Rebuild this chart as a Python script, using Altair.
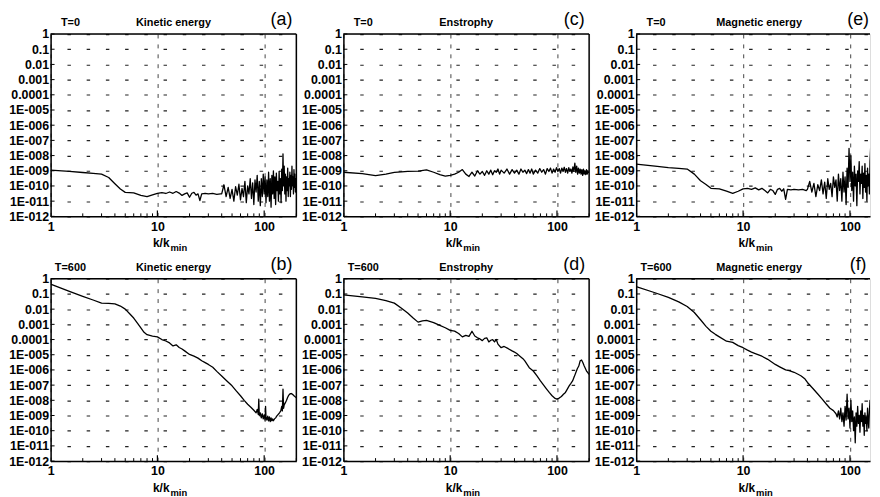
import altair as alt
import pandas as pd

FONT = "Liberation Sans"
W = 248          # full panel plot width (k from 1 to 200)
W_CUT = 236      # right-hand column, cut by the picture edge
XMAX_CUT = 154
H = 184

# ---------------- axis ticks ----------------
y_tick_values = [1, 0.1, 0.01, 0.001, 0.0001, 1e-5, 1e-6, 1e-7, 1e-8, 1e-9, 1e-10, 1e-11, 1e-12]
y_tick_labels = ["1", "0.1", "0.01", "0.001", "0.0001", "1E-005", "1E-006", "1E-007",
                 "1E-008", "1E-009", "1E-010", "1E-011", "1E-012"]
x_tick_values = [1, 10, 100]
x_tick_labels = ["1", "10", "100"]
x_minor_ticks = [2, 3, 4, 5, 6, 7, 8, 9, 20, 30, 40, 50, 60, 70, 80, 90, 200]
x_title_main = "k/k"
x_title_sub = "min"

# ---------------- panel texts (a, c, e, b, d, f) ----------------
panel_time = ["T=0", "T=0", "T=0", "T=600", "T=600", "T=600"]
panel_qty = ["Kinetic energy", "Enstrophy", "Magnetic energy",
             "Kinetic energy", "Enstrophy", "Magnetic energy"]
panel_letter = ["(a)", "(c)", "(e)", "(b)", "(d)", "(f)"]

# ---------------- data ----------------
k_t0_smooth = [1, 1.5, 2, 2.5, 3, 3.5, 4, 4.5, 5, 6, 7, 8, 9, 10, 11, 12, 13, 14, 15, 16,
               17, 18, 19, 20, 21, 22, 23, 24, 25, 26, 28, 30, 33, 36, 39]
k_t0_tail = list(range(40, 201, 2))

# (a) kinetic energy, T=0
v_a = [1.1e-9, 9e-10, 7.7e-10, 6.8e-10, 6e-10, 3.6e-10, 1.4e-10, 6.3e-11, 3.8e-11,
       3.5e-11, 2.4e-11, 2e-11, 2.6e-11, 3.3e-11, 3.6e-11, 3.2e-11, 4e-11, 3.3e-11, 4.3e-11,
       3.4e-11, 2.4e-11, 3e-11, 3.5e-11, 1.8e-11, 3.3e-11, 3.8e-11, 2.5e-11, 3e-11, 1.1e-11,
       3e-11, 3.3e-11, 3e-11, 3.2e-11, 2.8e-11, 3e-11,
       3e-11, 1.2e-10, 2e-11, 8e-11, 1.5e-11, 6e-11, 1e-11, 9e-11, 2.5e-11, 1.3e-10,
       1.2e-11, 7e-11, 2e-11, 2e-10, 8e-12, 1e-10, 3e-11, 3e-10, 1.5e-11, 1.6e-10,
       6e-12, 2.5e-10, 4e-11, 5e-10, 1e-11, 2e-10, 5e-12, 3e-10, 2e-11, 6e-10,
       3e-11, 4e-10, 8e-12, 2.5e-10, 2e-11, 8e-10, 1e-11, 3e-10, 4e-12, 5e-10,
       3e-11, 1e-9, 1.5e-11, 4e-10, 6e-12, 7e-10, 5e-11, 2e-10, 1e-11, 9e-10,
       3e-11, 3e-10, 8e-12, 1.3e-9, 5e-11, 1.3e-8, 1e-10, 2e-9, 3e-11, 6e-10,
       1e-11, 4e-10, 5e-11, 1.5e-9, 2e-11, 3e-10, 1e-10, 8e-10, 2e-11, 5e-10,
       6e-11, 2e-9, 1e-10, 4e-10, 3e-11, 1.2e-9, 8e-11, 6e-10, 4e-11, 3e-10,
       1e-10]
k_a = k_t0_smooth + k_t0_tail

# (c) enstrophy, T=0
k_c = ([1, 1.5, 2, 2.5, 3, 3.5, 4] + list(range(5, 31)) + list(range(32, 61, 2))
       + list(range(63, 199, 3)))
v_c = [8e-10, 6.5e-10, 4.8e-10, 6e-10, 7.8e-10, 8.5e-10, 9e-10,
       9.5e-10, 1.15e-9, 8e-10, 5.5e-10, 4.5e-10, 5e-10, 6e-10, 8e-10, 1.2e-9, 6e-10,
       4.2e-10, 8e-10, 4.5e-10, 1e-9, 6e-10, 9e-10, 5e-10, 1e-9, 6e-10, 1.1e-9,
       5.5e-10, 1e-9, 8e-10, 1.3e-9, 6e-10, 1.1e-9,
       7e-10, 1.3e-9, 6e-10, 1.2e-9, 7e-10, 1.1e-9, 6e-10, 1.3e-9, 8e-10, 1.1e-9,
       6.5e-10, 1.2e-9, 7e-10, 1.3e-9, 6e-10,
       1.1e-9, 7e-10, 1.4e-9, 8e-10, 1.2e-9, 6e-10, 1.4e-9, 9e-10, 1.5e-9, 7e-10,
       1.3e-9, 8e-10, 1.6e-9, 9e-10, 1.4e-9, 7e-10, 1.5e-9, 9e-10, 1.7e-9, 8e-10,
       1.4e-9, 7e-10, 1.6e-9, 9e-10, 1.3e-9, 7e-10, 1.8e-9, 9e-10, 3.2e-9, 8e-10,
       2e-9, 6e-10, 1.5e-9, 7e-10, 1.3e-9, 6e-10, 1.2e-9, 5e-10, 1.3e-9, 6e-10,
       1e-9, 5.5e-10, 1.2e-9, 6e-10, 1e-9, 7e-10]

# (e) magnetic energy, T=0
v_e = [2.7e-9, 2e-9, 1.6e-9, 1.45e-9, 1.3e-9, 6e-10, 2.2e-10, 1.25e-10, 7e-11,
       6.5e-11, 4.5e-11, 3.3e-11, 4.5e-11, 6.5e-11, 7e-11, 6e-11, 7.5e-11, 5.5e-11, 7e-11,
       5e-11, 3.5e-11, 6e-11, 5e-11, 2.8e-11, 6e-11, 7e-11, 4.5e-11, 6.5e-11, 1.3e-11,
       6e-11, 5.5e-11, 6e-11, 5.5e-11, 6e-11, 5e-11,
       6e-11, 2e-10, 4e-11, 1.5e-10, 2e-11, 1.2e-10, 5e-11, 2.5e-10, 3e-11, 1.8e-10,
       1.5e-11, 3e-10, 6e-11, 1.5e-10, 2e-11, 4e-10, 8e-11, 2.5e-10, 1e-11, 6e-10,
       5e-11, 3e-10, 1e-11, 8e-10, 4e-11, 4e-10, 6e-12, 1.5e-9, 8e-11, 3e-8,
       2e-10, 1e-8, 5e-11, 8e-10, 1e-11, 2e-9, 1e-10, 6e-10, 5e-12, 1e-9,
       2e-10, 4e-9, 3e-11, 6e-10, 1.5e-10, 2e-9, 1.5e-11, 7e-10, 8e-11, 3e-9,
       4e-11, 5e-10, 1e-11, 1.5e-9, 1e-10, 6e-10, 3e-11, 4e-9, 3e-8, 1e-9,
       1e-10, 2e-9, 3e-11, 8e-10, 2e-10, 5e-9, 6e-11, 1e-9, 3e-10, 1e-9,
       4e-8, 2e-10, 3e-9, 5e-11, 8e-10, 2e-9, 1e-10, 6e-10, 3e-9, 2e-10,
       1e-9]
k_e = k_t0_smooth + k_t0_tail

# (b) kinetic energy, T=600
k_b = [1, 1.5, 2, 2.5, 3, 3.5, 4, 4.5, 5, 5.5, 6, 6.5, 7, 7.5, 8, 9, 10, 11, 12, 13, 14, 15,
       16, 17, 18, 20, 22, 24, 26, 28, 30, 33, 36, 40, 45, 50, 55, 60, 65, 70, 75, 80, 84,
       86, 88, 89, 90, 92, 94, 96, 98, 100, 102, 103, 104, 106, 108, 110, 112, 114, 116,
       118, 120, 122, 125, 128, 131, 134, 137, 140, 143, 146, 148, 150, 152, 154, 158, 162,
       166, 170, 175, 180, 185, 190, 195, 200]
v_b = [0.45, 0.15, 0.07, 0.04, 0.025, 0.024, 0.022, 0.016, 0.01, 5e-3, 2.6e-3, 1.2e-3,
       5.8e-4, 3e-4, 2.1e-4, 1.7e-4, 1.5e-4, 1e-4, 8e-5, 6e-5, 3.8e-5, 4.5e-5,
       3e-5, 2.4e-5, 1.8e-5, 1.05e-5, 8e-6, 6e-6, 4e-6, 3e-6, 2.3e-6, 1.5e-6, 8e-7, 4e-7,
       1.8e-7, 9e-8, 4e-8, 2e-8, 1e-8, 5.5e-9, 3.5e-9, 2.2e-9, 1.5e-9,
       2.5e-9, 1.2e-9, 1.2e-8, 1e-9, 1.5e-9, 7e-10, 1.3e-9, 6e-10, 1.1e-9, 5e-10, 4e-9,
       8e-10, 5e-10, 9e-10, 4.5e-10, 8e-10, 4e-10, 7e-10,
       4.5e-10, 6e-10, 4.5e-10, 6e-10, 7e-10, 9e-10, 1.1e-9, 1.3e-9, 1.6e-9, 2e-9, 4e-9,
       2e-9, 5.5e-8, 3e-9, 5e-9, 7e-9, 1e-8,
       1.6e-8, 2.2e-8, 2.7e-8, 2.8e-8, 2.4e-8, 2e-8, 1.7e-8, 1.5e-8]

# (d) enstrophy, T=600
k_d = [1, 1.5, 2, 2.5, 3, 3.5, 4, 4.5, 5, 5.5, 6, 7, 8, 9, 10, 11, 12, 13, 14, 15, 16, 17,
       18, 19, 20, 21, 22, 23, 24, 25, 26, 27, 28, 30, 32, 35, 38, 40, 42, 45, 48, 50, 55,
       60, 65, 70, 75, 80, 85, 90, 95, 100, 105, 110, 115, 120, 125, 130, 135, 140, 145,
       150, 155, 160, 165, 170, 175, 180, 185, 190, 195, 200]
v_d = [0.087, 0.065, 0.052, 0.037, 0.025, 0.0115, 5.5e-3, 2.6e-3, 1.4e-3, 1.7e-3, 1.8e-3,
       1.3e-3, 8.5e-4, 6e-4, 4e-4, 3.6e-4, 2.5e-4, 1.5e-4, 1.9e-4, 1.6e-4, 3.5e-4, 1.7e-4,
       1.3e-4, 1.1e-4, 8.5e-5, 1.2e-4, 1.3e-4, 7e-5, 9e-5, 1e-4, 7e-5, 1e-4, 5e-5, 2.9e-5,
       3.5e-5, 2.5e-5, 1.8e-5, 1.5e-5, 1.2e-5, 8e-6, 5.5e-6, 3.9e-6, 1.4e-6,
       8.5e-7, 4e-7, 1.9e-7, 1e-7, 5.5e-8, 3.2e-8, 2e-8, 1.4e-8, 1.2e-8, 1.4e-8, 1.8e-8,
       2.5e-8, 3.3e-8, 5.5e-8, 9e-8, 1.3e-7, 1.9e-7, 3.5e-7,
       6.6e-7, 1.2e-6, 1.8e-6, 4e-6, 4.5e-6, 3e-6, 1.8e-6, 1.2e-6, 8e-7, 6.5e-7, 5e-7]

# (f) magnetic energy, T=600
k_f = [1, 1.5, 2, 2.5, 3, 3.5, 4, 4.5, 5, 5.5, 6, 7, 8, 9, 10, 11, 12, 13, 15, 17, 20, 22,
       25, 27, 30, 33, 35, 38, 40, 45, 50, 55, 60, 65, 70, 74] + list(range(76, 181, 2))
v_f = [0.3, 0.12, 0.06, 0.03, 0.015, 6e-3, 2e-3, 7.4e-4, 3.5e-4, 2.2e-4, 1.5e-4, 7.8e-5,
       6.5e-5, 4e-5, 2.9e-5, 2e-5, 1.5e-5, 1.2e-5, 8e-6, 5e-6, 2.3e-6, 1.6e-6,
       1e-6, 9e-7, 7e-7, 5e-7, 4e-7, 2.5e-7, 1.5e-7, 6e-8, 2.6e-8, 1.2e-8, 5.7e-9, 3e-9,
       2.1e-9, 1.3e-9,
       8e-10, 2e-9, 6e-10, 3e-9, 4e-10, 1.5e-9, 2e-10, 4e-9, 5e-10, 2.5e-8,
       6e-10, 3e-9, 1.5e-10, 1e-8, 4e-10, 2e-9, 1e-10, 8e-10, 1.6e-11, 1.5e-9,
       2e-10, 4e-9, 3e-10, 1e-9, 8e-11, 2e-9, 4e-10, 6e-9, 2e-10, 1e-9,
       5e-11, 1.5e-9, 3e-10, 8e-10, 1e-10, 3e-9, 5e-10, 1.5e-10, 2e-9, 1e-8,
       3e-9, 5e-9, 1.5e-8, 9e-8, 1e-8, 4e-8, 1.5e-8, 3e-8, 2e-8, 5e-8,
       3e-8, 4e-8, 8e-8]


def chain_expr(values, labels):
    parts = []
    for val, lab in zip(values, labels):
        parts.append(f"datum.value > {val / 3!r} ? '{lab}' : ")
    return "".join(parts) + "''"


y_expr = chain_expr(y_tick_values, y_tick_labels)
x_expr = chain_expr(sorted(x_tick_values, reverse=True), list(reversed(x_tick_labels)))

X_AXIS = alt.Axis(
    values=x_tick_values, labelExpr=x_expr, title=None, ticks=False,
    grid=True, gridDash=[4, 6], gridColor="#444", gridWidth=1,
    domainColor="black", domainWidth=1.5,
    labelFont=FONT, labelFontSize=12.5, labelFontWeight="bold",
    labelColor="black", labelPadding=4, labelFlush=False, labelOverlap=False)
Y_AXIS = alt.Axis(
    values=y_tick_values, labelExpr=y_expr, title=None, ticks=False,
    grid=True, gridDash=[3.5, 15.9], gridDashOffset=2.9, gridColor="#222",
    gridWidth=1.2, domainColor="black", domainWidth=1.5,
    labelFont=FONT, labelFontSize=12.5, labelFontWeight="bold",
    labelColor="black", labelPadding=2, labelOverlap=False, labelFlush=False)

one_row = pd.DataFrame({"n": [0]})


def panel(k, v, idx, width=W, xmax=200, right_frame=True, letter_x=233):
    df = pd.DataFrame({"k": k, "v": v})
    xs = alt.Scale(type="log", domain=[1, xmax], nice=False)
    ys = alt.Scale(type="log", domain=[1e-12, 1], nice=False)
    line = alt.Chart(df).mark_line(color="black", strokeWidth=1.3, clip=True,
                                   strokeJoin="round").encode(
        x=alt.X("k:Q", scale=xs, axis=X_AXIS),
        y=alt.Y("v:Q", scale=ys, axis=Y_AXIS),
    )
    yt = alt.Chart(pd.DataFrame({"v": y_tick_values})).mark_rule(
        color="black", strokeWidth=1).encode(
        y=alt.Y("v:Q", scale=ys, axis=Y_AXIS), x=alt.value(0), x2=alt.value(4))
    minor = [t for t in x_minor_ticks if t <= xmax]
    xt = alt.Chart(pd.DataFrame({"k": minor})).mark_rule(
        color="black", strokeWidth=1).encode(
        x=alt.X("k:Q", scale=xs, axis=X_AXIS), y=alt.value(H - 3), y2=alt.value(H))
    xt_major = alt.Chart(pd.DataFrame({"k": x_tick_values[1:]})).mark_rule(
        color="black", strokeWidth=1.2).encode(
        x=alt.X("k:Q", scale=xs, axis=X_AXIS), y=alt.value(H - 6), y2=alt.value(H))
    top = alt.Chart(one_row).mark_rule(color="black", strokeWidth=1.5).encode(
        x=alt.value(0), x2=alt.value(width), y=alt.value(0))
    layers = [line, yt, xt, xt_major, top]
    if right_frame:
        right = alt.Chart(one_row).mark_rule(color="black", strokeWidth=1.5).encode(
            x=alt.value(width), y=alt.value(0), y2=alt.value(H))
        layers.append(right)

    tdf = pd.DataFrame({"time": [panel_time[idx]], "qty": [panel_qty[idx]],
                        "letter": [panel_letter[idx]], "main": [x_title_main],
                        "sub": [x_title_sub]})
    base = alt.Chart(tdf)
    t_time = base.mark_text(font=FONT, fontSize=11, fontWeight="bold", color="black",
                            align="center", baseline="alphabetic").encode(
        text="time:N", x=alt.value(20), y=alt.value(-8))
    t_qty = base.mark_text(font=FONT, fontSize=11, fontWeight="bold", color="black",
                           align="center", baseline="alphabetic").encode(
        text="qty:N", x=alt.value(W / 2), y=alt.value(-8))
    t_letter = base.mark_text(font=FONT, fontSize=18, fontWeight="normal", color="black",
                              align="center", baseline="alphabetic").encode(
        text="letter:N", x=alt.value(letter_x), y=alt.value(-9))
    t_main = base.mark_text(font=FONT, fontSize=12, fontWeight="bold", color="black",
                            align="right", baseline="alphabetic").encode(
        text="main:N", x=alt.value(120), y=alt.value(H + 31))
    t_sub = base.mark_text(font=FONT, fontSize=9.5, fontWeight="bold", color="black",
                           align="left", baseline="alphabetic").encode(
        text="sub:N", x=alt.value(121), y=alt.value(H + 35))
    layers += [t_time, t_qty, t_letter, t_main, t_sub]
    return alt.layer(*layers).properties(width=width, height=H)


pa = panel(k_a, v_a, 0)
pc = panel(k_c, v_c, 1)
pe = panel(k_e, v_e, 2, width=W_CUT, xmax=XMAX_CUT, right_frame=False, letter_x=224)
pb = panel(k_b, v_b, 3)
pd_ = panel(k_d, v_d, 4)
pf = panel(k_f, v_f, 5, width=W_CUT, xmax=XMAX_CUT, right_frame=False, letter_x=224)

row1 = alt.hconcat(pa, pc, pe, spacing=2.5)
row2 = alt.hconcat(pb, pd_, pf, spacing=2.5)
chart = alt.vconcat(row1, row2, spacing=2).properties(
    padding={"left": 0, "top": 0, "right": 0, "bottom": 0}
).configure_view(stroke=None).configure(background="white")

chart.save("out.html", embed_options={"renderer": "svg", "actions": False})
